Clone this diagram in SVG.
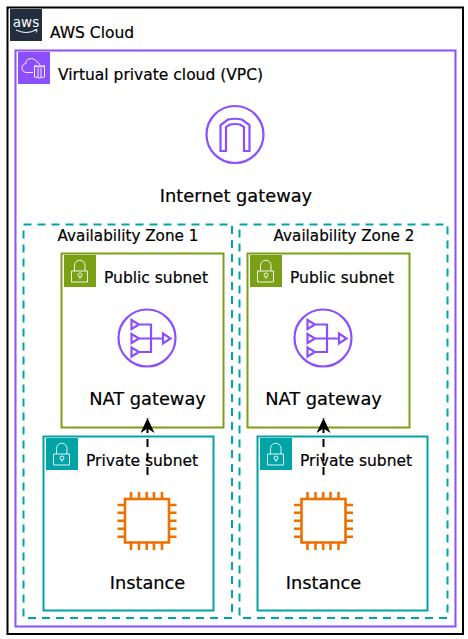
<svg xmlns="http://www.w3.org/2000/svg" xmlns:xlink="http://www.w3.org/1999/xlink" width="468" height="639" viewBox="0 0 468 639">
<style>
text{font-family:"DejaVu Sans",sans-serif;fill:#000;stroke:#000;stroke-width:.2}
.lb{font-size:15.500px}
.az-t{font-size:15.200px}
.big{font-size:17.800px}
.box{fill:none;stroke-width:2}
.az{fill:none;stroke:#00a4a6;stroke-width:2;stroke-dasharray:8 6}
.ln{fill:none;stroke-width:2.200;stroke-linejoin:miter}
.pu{stroke:#8c4fff}
.or{stroke:#ed7100;stroke-width:2.600}
.wl{fill:none;stroke:#fff;stroke-width:.9}
</style>
<defs>
<g id="lock"><rect width="32" height="32"/><path class="wl" d="M7.500 16h16v11h-16zM10.500 16v-5.500a5.200 5.200 0 0 1 10.500 0v5.500"/><circle class="wl" cx="16" cy="20" r="2"/><path class="wl" d="M16 22v2"/></g>
<g id="natgw" class="ln pu"><circle cx="29" cy="29" r="28.500"/><path d="M13.500 11l7.500 4.500-7.500 4.500zM13.500 25l7.500 4.500-7.500 4.500zM13.500 38.500l7.500 4.500-7.500 4.500zM21 15.500h12v27.500H21M21 29.500H45M45 24.500l7.500 5-7.500 5z"/></g>
<g id="ec2" class="ln or"><rect x="7" y="8" width="44" height="43.500"/><path d="M13 8V1M21 8V1M28.700 8V1M36 8V1M44 8V1M13 51v8M21 51v8M28.700 51v8M36 51v8M44 51v8M7 14H-.5M7 21.700H-.5M7 29.700H-.5M7 37.700H-.5M7 45.700H-.5M51 14h7.500M51 21.700h7.500M51 29.700h7.500M51 37.700h7.500M51 45.700h7.500"/></g>
<marker id="ah" markerUnits="userSpaceOnUse" markerWidth="16" markerHeight="14" refX="14.500" refY="7" orient="auto" viewBox="0 0 16 14"><path d="M0 0L15 7L0 14L4.500 7Z" fill="#000"/></marker>
</defs>
<g id="aws-cloud">
<rect class="box" x="7.500" y="7.500" width="455.500" height="626.500" stroke="#000"/>
<rect x="10" y="9" width="32" height="32" fill="#232f3e"/>
<text x="26" y="26.500" text-anchor="middle" style="font-size:13.500px;fill:#fff;stroke:none">aws</text>
<path d="M16 30q10 5 20 0M33.500 30.500l3.500-1-.5 3" fill="none" stroke="#fff" stroke-width="1"/>
<text class="lb" x="50" y="37.500">AWS Cloud</text>
</g>
<g id="vpc">
<rect class="box" x="15.500" y="50.500" width="440" height="576" stroke="#8c4fff"/>
<rect x="18" y="52" width="32" height="32" fill="#8c4fff"/>
<path class="wl" d="M33 72.500h-6a4.500 4.500 0 0 1-1-9 4 4 0 0 1 3-4.500 6.500 6.500 0 0 1 8 3 5 5 0 0 1 3 3"/>
<path class="wl" d="M34.500 66h10v11q-5 2-10 0zM34.500 66q5 2 10 0M38 68v9M41 68v9"/>
<text class="lb" x="58" y="80">Virtual private cloud (VPC)</text>
</g>
<g id="internet-gateway">
<circle cx="235" cy="134.500" r="28.500" fill="none" stroke="#8c4fff" stroke-width="2.200"/>
<path class="ln pu" d="M220.500 151V125L228 119.500Q235 118 242 119.500L249.500 125V151H244V127L240 124.500Q235 123.500 230 124.500L226 127V151Z"/>
<text class="big" x="236" y="202" text-anchor="middle">Internet gateway</text>
</g>
<g id="az1"><rect class="az" x="23.500" y="224.500" width="208.500" height="393.500"/>
<text class="az-t" x="128" y="241" text-anchor="middle">Availability Zone 1</text></g>
<g id="az2"><rect class="az" x="239.500" y="224.500" width="208" height="393.500"/>
<text class="az-t" x="344" y="241" text-anchor="middle">Availability Zone 2</text></g>
<g id="public-subnet-1">
<rect class="box" x="61.500" y="253.500" width="162" height="174" stroke="#7aa116"/>
<use xlink:href="#lock" href="#lock" x="64" y="255" fill="#7aa116"/>
<text class="lb" x="104" y="283">Public subnet</text>
</g>
<g id="nat-gateway-1"><use xlink:href="#natgw" href="#natgw" x="118" y="309"/>
<text class="big" x="147.500" y="405" text-anchor="middle">NAT gateway</text></g>
<g id="public-subnet-2">
<rect class="box" x="247.500" y="253.500" width="162" height="174" stroke="#7aa116"/>
<use xlink:href="#lock" href="#lock" x="250" y="255" fill="#7aa116"/>
<text class="lb" x="290" y="283">Public subnet</text>
</g>
<g id="nat-gateway-2"><use xlink:href="#natgw" href="#natgw" x="294" y="309"/>
<text class="big" x="323.500" y="405" text-anchor="middle">NAT gateway</text></g>
<g id="private-subnet-1">
<rect class="box" x="43.500" y="436.500" width="170" height="174" stroke="#00a4a6"/>
<use xlink:href="#lock" href="#lock" x="46" y="438" fill="#00a4a6"/>
<text class="lb" x="86" y="466">Private subnet</text>
</g>
<g id="instance-1"><use xlink:href="#ec2" href="#ec2" x="118" y="491"/>
<text class="big" x="147.500" y="588.500" text-anchor="middle">Instance</text></g>
<g id="private-subnet-2">
<rect class="box" x="257.500" y="436.500" width="170" height="174" stroke="#00a4a6"/>
<use xlink:href="#lock" href="#lock" x="260" y="438" fill="#00a4a6"/>
<text class="lb" x="300" y="466">Private subnet</text>
</g>
<g id="instance-2"><use xlink:href="#ec2" href="#ec2" x="294.500" y="491"/>
<text class="big" x="323.500" y="588.500" text-anchor="middle">Instance</text></g>
<g id="connectors" fill="none" stroke="#000" stroke-width="2">
<path d="M147.500 475V418.500" stroke-dasharray="8 6" marker-end="url(#ah)"/>
<path d="M323.500 475V418.500" stroke-dasharray="8 6" marker-end="url(#ah)"/>
</g>
</svg>
